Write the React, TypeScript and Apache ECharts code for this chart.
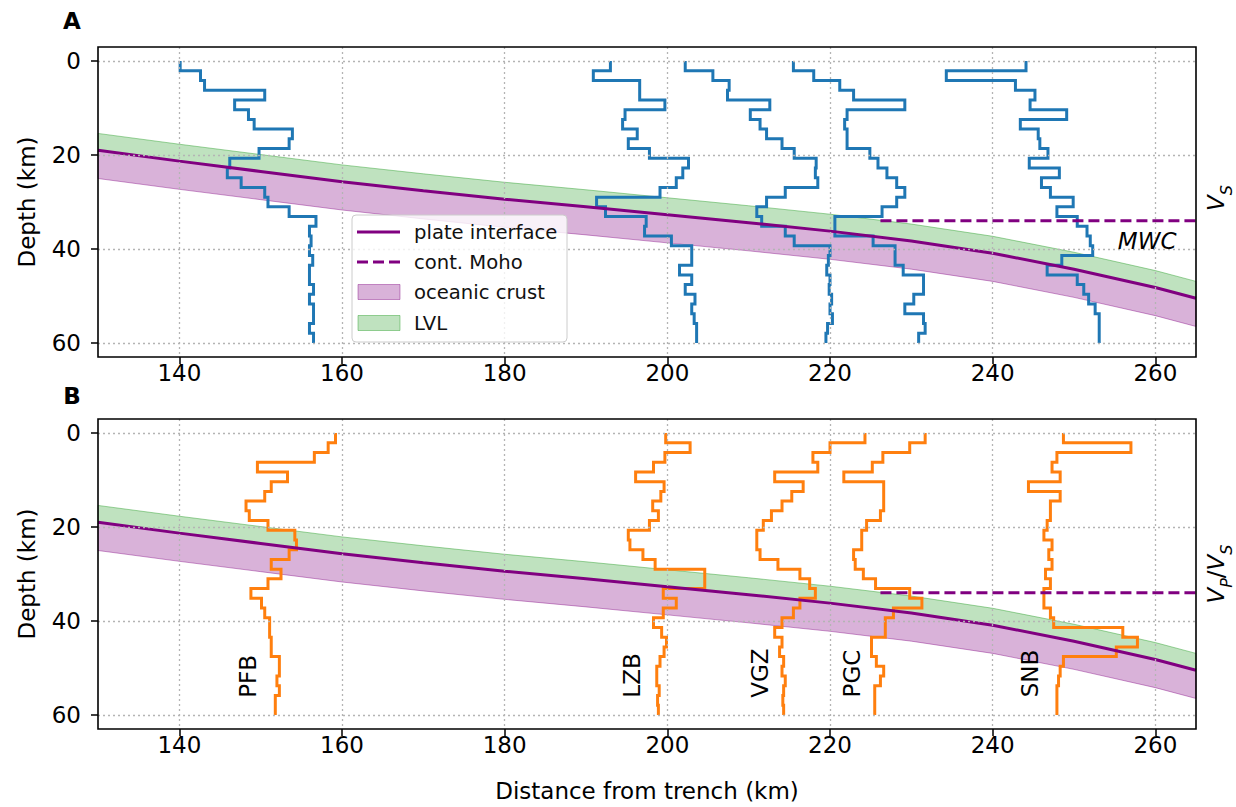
import React, { useEffect, useRef } from "react";
import * as echarts from "echarts";

// Layer boundaries (km) shared by all 1-D models: 29 layers from 0 to 60 km
const depthNodes = [0, 2.07, 4.14, 6.21, 8.28, 10.34, 12.41, 14.48, 16.55, 18.62, 20.69, 22.76, 24.83, 26.9, 28.97, 31.03, 33.1, 35.17, 37.24, 39.31, 41.38, 43.45, 45.52, 47.59, 49.66, 51.72, 53.79, 55.86, 57.93, 60];

// Panel A: shear-velocity models, plotted as horizontal position (km from trench)
const vsModel1 = [140.1, 142.6, 143.1, 150.5, 146.8, 148.5, 149.2, 153.9, 153.5, 149.8, 146.2, 145.9, 147.6, 150.5, 150.9, 153.5, 156.8, 156.0, 156.2, 156.0, 156.4, 156.0, 156.0, 156.5, 156.0, 156.5, 156.5, 156.0, 156.5];
const vsModel2 = [193.0, 190.9, 196.6, 196.6, 199.7, 194.8, 194.5, 196.3, 195.2, 197.8, 202.6, 201.9, 201.1, 199.1, 191.3, 192.4, 197.4, 197.2, 200.5, 203.0, 203.0, 201.5, 203.0, 202.2, 203.4, 203.0, 203.3, 203.6, 203.6];
const vsModel3 = [202.2, 205.6, 207.6, 207.4, 212.6, 210.2, 211.4, 212.2, 214.1, 215.6, 218.3, 218.2, 218.5, 214.5, 212.2, 211.0, 211.6, 214.5, 215.6, 220.0, 219.8, 219.6, 220.0, 219.9, 220.2, 220.0, 220.3, 219.7, 219.5];
const vsModel4 = [215.5, 218.0, 221.2, 222.9, 229.2, 222.1, 221.8, 222.1, 222.1, 224.9, 225.9, 227.0, 228.2, 229.2, 228.2, 226.4, 220.6, 220.6, 225.3, 228.0, 228.0, 229.0, 231.5, 231.5, 230.3, 229.2, 231.5, 231.7, 230.9];
const vsModel5 = [244.1, 234.3, 242.8, 245.2, 244.6, 249.1, 243.4, 245.6, 245.8, 246.8, 244.5, 248.2, 246.0, 247.1, 249.9, 247.9, 250.4, 251.6, 252.0, 252.3, 248.5, 246.7, 250.4, 251.2, 251.8, 252.6, 253.1, 253.1, 253.1];

// Panel B: Vp/Vs models, one per station
const stationNames = ["PFB", "LZB", "VGZ", "PGC", "SNB"];
const vpvsPFB = [159.2, 158.3, 156.6, 149.6, 153.3, 151.3, 150.5, 148.2, 148.6, 150.9, 154.2, 154.4, 153.5, 151.3, 152.5, 150.9, 148.8, 150.1, 150.5, 151.1, 151.1, 151.3, 151.3, 152.3, 152.3, 152.0, 152.3, 151.8, 151.8];
const vpvsLZB = [199.8, 202.8, 199.7, 198.3, 196.1, 199.6, 199.2, 198.2, 198.9, 197.8, 195.2, 195.4, 197.0, 198.5, 204.6, 204.6, 199.5, 201.1, 199.5, 198.3, 199.3, 199.9, 199.6, 199.1, 198.7, 198.7, 199.0, 198.8, 198.9];
const vpvsVGZ = [224.3, 220.0, 217.9, 218.5, 213.2, 216.7, 215.3, 214.1, 212.8, 211.8, 211.0, 211.0, 211.4, 213.6, 216.3, 217.5, 218.2, 216.3, 215.5, 214.1, 213.2, 214.1, 213.8, 214.3, 214.1, 214.5, 214.3, 214.2, 214.3];
const vpvsPGC = [231.7, 229.8, 226.5, 225.2, 221.7, 226.6, 226.6, 226.6, 226.2, 224.5, 223.9, 223.9, 222.9, 223.1, 224.1, 225.6, 229.8, 231.3, 227.8, 226.8, 226.8, 225.1, 225.1, 225.7, 226.6, 226.2, 225.5, 225.5, 225.5];
const vpvsSNB = [248.7, 257.0, 247.9, 247.3, 248.3, 244.4, 248.3, 247.1, 247.1, 246.7, 246.3, 247.3, 246.9, 247.3, 246.5, 247.1, 246.3, 246.3, 247.1, 247.5, 256.0, 257.8, 255.2, 248.7, 248.3, 248.1, 247.9, 247.9, 247.9];
const stationLabelX = [148.4, 195.7, 211.4, 222.7, 244.6];
const stationLabelDepth = [51.8, 51.6, 51.1, 51.2, 51.2];

// Subducting plate interface and layers around it
const slabX = [130, 140, 150, 160, 170, 180, 190, 200, 210, 220, 230, 240, 250, 260, 265];
const slabDepth = [19.0, 21.3, 23.5, 25.7, 27.6, 29.4, 31.0, 32.7, 34.4, 36.2, 38.3, 40.9, 44.3, 48.2, 50.5];
const lvlThickness = 3.6;
const crustThickness = 6.0;

// Continental Moho
const mohoX = [226.2, 265];
const mohoDepth = 34;

// Axes
const xTicks = [140, 160, 180, 200, 220, 240, 260];
const yTicks = [0, 20, 40, 60];

const FONT = "DejaVu Sans";
const PURPLE = "#800080";
const BLUE = "#1f77b4";
const ORANGE = "#ff7f0e";
const GREEN_FILL = "rgba(44,160,44,0.3)";
const GREEN_EDGE = "rgba(44,160,44,0.45)";
const PURPLE_FILL = "rgba(128,0,128,0.3)";
const PURPLE_EDGE = "rgba(128,0,128,0.4)";

function stepPoints(values: number[]) {
  const pts: number[][] = [];
  values.forEach((v, i) => {
    pts.push([v, depthNodes[i]], [v, depthNodes[i + 1]]);
  });
  return pts;
}

function bandSeries(g: number, topOff: number, botOff: number, fill: string, edge: string) {
  return {
    type: "custom",
    xAxisIndex: g,
    yAxisIndex: g,
    z: 1,
    silent: true,
    data: [[slabX[0], slabDepth[0]]],
    renderItem: (_p: any, api: any) => {
      const top = slabX.map((x, i) => api.coord([x, slabDepth[i] + topOff]));
      const bot = slabX.map((x, i) => api.coord([x, slabDepth[i] + botOff])).reverse();
      return {
        type: "polygon",
        shape: { points: top.concat(bot) },
        style: { fill, stroke: edge, lineWidth: 1 },
      };
    },
  };
}

function panelSeries(g: number, profiles: number[][], color: string) {
  const s: any[] = [];
  // dotted grid
  s.push({
    type: "line",
    xAxisIndex: g,
    yAxisIndex: g,
    data: [],
    z: 2,
    silent: true,
    markLine: {
      silent: true,
      symbol: ["none", "none"],
      label: { show: false },
      lineStyle: { type: [2, 3], color: "#b4b4b4", width: 1.3 },
      data: [
        ...xTicks.map((v) => ({ xAxis: v })),
        ...yTicks.map((v) => ({ yAxis: v })),
      ],
    },
  });
  s.push(bandSeries(g, -lvlThickness, 0, GREEN_FILL, GREEN_EDGE));
  s.push(bandSeries(g, 0, crustThickness, PURPLE_FILL, PURPLE_EDGE));
  profiles.forEach((p) => {
    s.push({
      type: "line",
      xAxisIndex: g,
      yAxisIndex: g,
      data: stepPoints(p),
      symbol: "none",
      z: 3,
      silent: true,
      lineStyle: { color, width: 3, join: "miter", cap: "butt" },
    });
  });
  s.push({
    type: "line",
    xAxisIndex: g,
    yAxisIndex: g,
    data: slabX.map((x, i) => [x, slabDepth[i]]),
    symbol: "none",
    z: 4,
    silent: true,
    lineStyle: { color: PURPLE, width: 3 },
  });
  s.push({
    type: "line",
    xAxisIndex: g,
    yAxisIndex: g,
    data: mohoX.map((x) => [x, mohoDepth]),
    symbol: "none",
    z: 4,
    silent: true,
    lineStyle: { color: PURPLE, width: 3, type: [11, 5] },
  });
  return s;
}

function axesFor(g: number) {
  const label = { color: "#000", fontSize: 23, fontFamily: FONT };
  return {
    x: {
      type: "value",
      gridIndex: g,
      min: 130,
      max: 265,
      axisLine: { show: false, onZero: false },
      splitLine: { show: false },
      axisTick: { show: true, inside: false, length: 7, lineStyle: { color: "#000", width: 1.5 }, customValues: xTicks },
      axisLabel: { ...label, margin: 4, customValues: xTicks },
      name: g === 1 ? "Distance from trench (km)" : "",
      nameLocation: "middle",
      nameGap: 50,
      nameTextStyle: { color: "#000", fontSize: 23, fontFamily: FONT },
    },
    y: {
      type: "value",
      gridIndex: g,
      min: -3,
      max: 63,
      inverse: true,
      axisLine: { show: false, onZero: false },
      splitLine: { show: false },
      axisTick: { show: true, inside: false, length: 7, lineStyle: { color: "#000", width: 1.5 }, customValues: yTicks },
      axisLabel: { ...label, margin: 17, customValues: yTicks },
      name: "Depth (km)",
      nameLocation: "middle",
      nameGap: 60,
      nameRotate: 90,
      nameTextStyle: { color: "#000", fontSize: 23, fontFamily: FONT },
    },
  };
}

function legendGraphic() {
  const x0 = 352, y0 = 215;
  const rows = [232, 262, 292, 323];
  const txt = ["plate interface", "cont. Moho", "oceanic crust", "LVL"];
  const els: any[] = [
    {
      type: "rect",
      shape: { x: x0, y: y0, width: 215, height: 127, r: 4 },
      style: { fill: "rgba(255,255,255,0.8)", stroke: "#cccccc", lineWidth: 1 },
      z: 100,
    },
    { type: "line", shape: { x1: 357, y1: rows[0], x2: 400, y2: rows[0] }, style: { stroke: PURPLE, lineWidth: 3 }, z: 101 },
    { type: "line", shape: { x1: 357, y1: rows[1], x2: 400, y2: rows[1] }, style: { stroke: PURPLE, lineWidth: 3, lineDash: [11, 5] }, z: 101 },
    { type: "rect", shape: { x: 358, y: rows[2] - 7.5, width: 42, height: 15 }, style: { fill: PURPLE_FILL, stroke: PURPLE_EDGE, lineWidth: 1 }, z: 101 },
    { type: "rect", shape: { x: 358, y: rows[3] - 7.5, width: 42, height: 15 }, style: { fill: GREEN_FILL, stroke: GREEN_EDGE, lineWidth: 1 }, z: 101 },
  ];
  txt.forEach((t, i) => {
    els.push({
      type: "text",
      x: 414,
      y: rows[i],
      z: 101,
      style: { text: t, fill: "#111", font: `19.6px '${FONT}'`, align: "left", verticalAlign: "middle" },
    });
  });
  return els;
}

function sideLabel(x: number, y: number, text: string) {
  return {
    type: "text",
    x,
    y,
    rotation: Math.PI / 2,
    z: 100,
    style: {
      text,
      align: "center",
      verticalAlign: "middle",
      fill: "#000",
      rich: {
        v: { fontFamily: FONT, fontStyle: "italic", fontSize: 23, lineHeight: 30, verticalAlign: "top", fill: "#000" },
        n: { fontFamily: FONT, fontSize: 23, lineHeight: 30, verticalAlign: "top", fill: "#000" },
        s: { fontFamily: FONT, fontStyle: "italic", fontSize: 16, lineHeight: 16, verticalAlign: "bottom", fill: "#000" },
      },
    },
  };
}

export default function App() {
  const ref = useRef<HTMLDivElement>(null);
  useEffect(() => {
    if (!ref.current) return;
    const chart = echarts.init(ref.current, undefined, { renderer: "svg" });
    const a = axesFor(0);
    const b = axesFor(1);
    const labelBase = {
      show: true,
      position: "inside",
      formatter: "{b}",
      color: "#000",
      opacity: 1,
      fontSize: 23,
      fontFamily: FONT,
      textBorderWidth: 0,
    };
    const series: any[] = [
      ...panelSeries(0, [vsModel1, vsModel2, vsModel3, vsModel4, vsModel5], BLUE),
      ...panelSeries(1, [vpvsPFB, vpvsLZB, vpvsVGZ, vpvsPGC, vpvsSNB], ORANGE),
      {
        type: "scatter",
        xAxisIndex: 0,
        yAxisIndex: 0,
        symbolSize: 0.1,
        itemStyle: { color: "transparent", opacity: 1 },
        silent: true,
        z: 5,
        data: [{ value: [259, 38.3], name: "MWC" }],
        label: { ...labelBase, fontStyle: "italic" },
      },
      {
        type: "scatter",
        xAxisIndex: 1,
        yAxisIndex: 1,
        symbolSize: 0.1,
        itemStyle: { color: "transparent", opacity: 1 },
        silent: true,
        z: 5,
        data: stationNames.map((n, i) => ({ value: [stationLabelX[i], stationLabelDepth[i]], name: n })),
        label: { ...labelBase, rotate: 90 },
      },
    ];
    chart.setOption({
      animation: false,
      backgroundColor: "#fff",
      textStyle: { fontFamily: FONT },
      grid: [
        { left: 98, top: 47, width: 1098, height: 310, show: true, borderColor: "#000", borderWidth: 1.6, backgroundColor: "transparent", z: 10 },
        { left: 98, top: 419, width: 1098, height: 310, show: true, borderColor: "#000", borderWidth: 1.6, backgroundColor: "transparent", z: 10 },
      ],
      xAxis: [a.x, b.x],
      yAxis: [a.y, b.y],
      series,
      graphic: [
        { type: "text", x: 72, y: 21, z: 100, style: { text: "A", font: `bold 23px '${FONT}'`, fill: "#000", align: "center", verticalAlign: "middle" } },
        { type: "text", x: 72, y: 396, z: 100, style: { text: "B", font: `bold 23px '${FONT}'`, fill: "#000", align: "center", verticalAlign: "middle" } },
        sideLabel(1219, 198, "{v|V}{s|S}"),
        sideLabel(1219, 574, "{v|V}{s|P}{n|/}{v|V}{s|S}"),
        ...legendGraphic(),
      ],
    });
    return () => chart.dispose();
  }, []);
  return (
    <div
      ref={ref}
      style={{ position: "fixed", left: 0, top: 0, width: 1236, height: 807, background: "#fff" }}
    />
  );
}
